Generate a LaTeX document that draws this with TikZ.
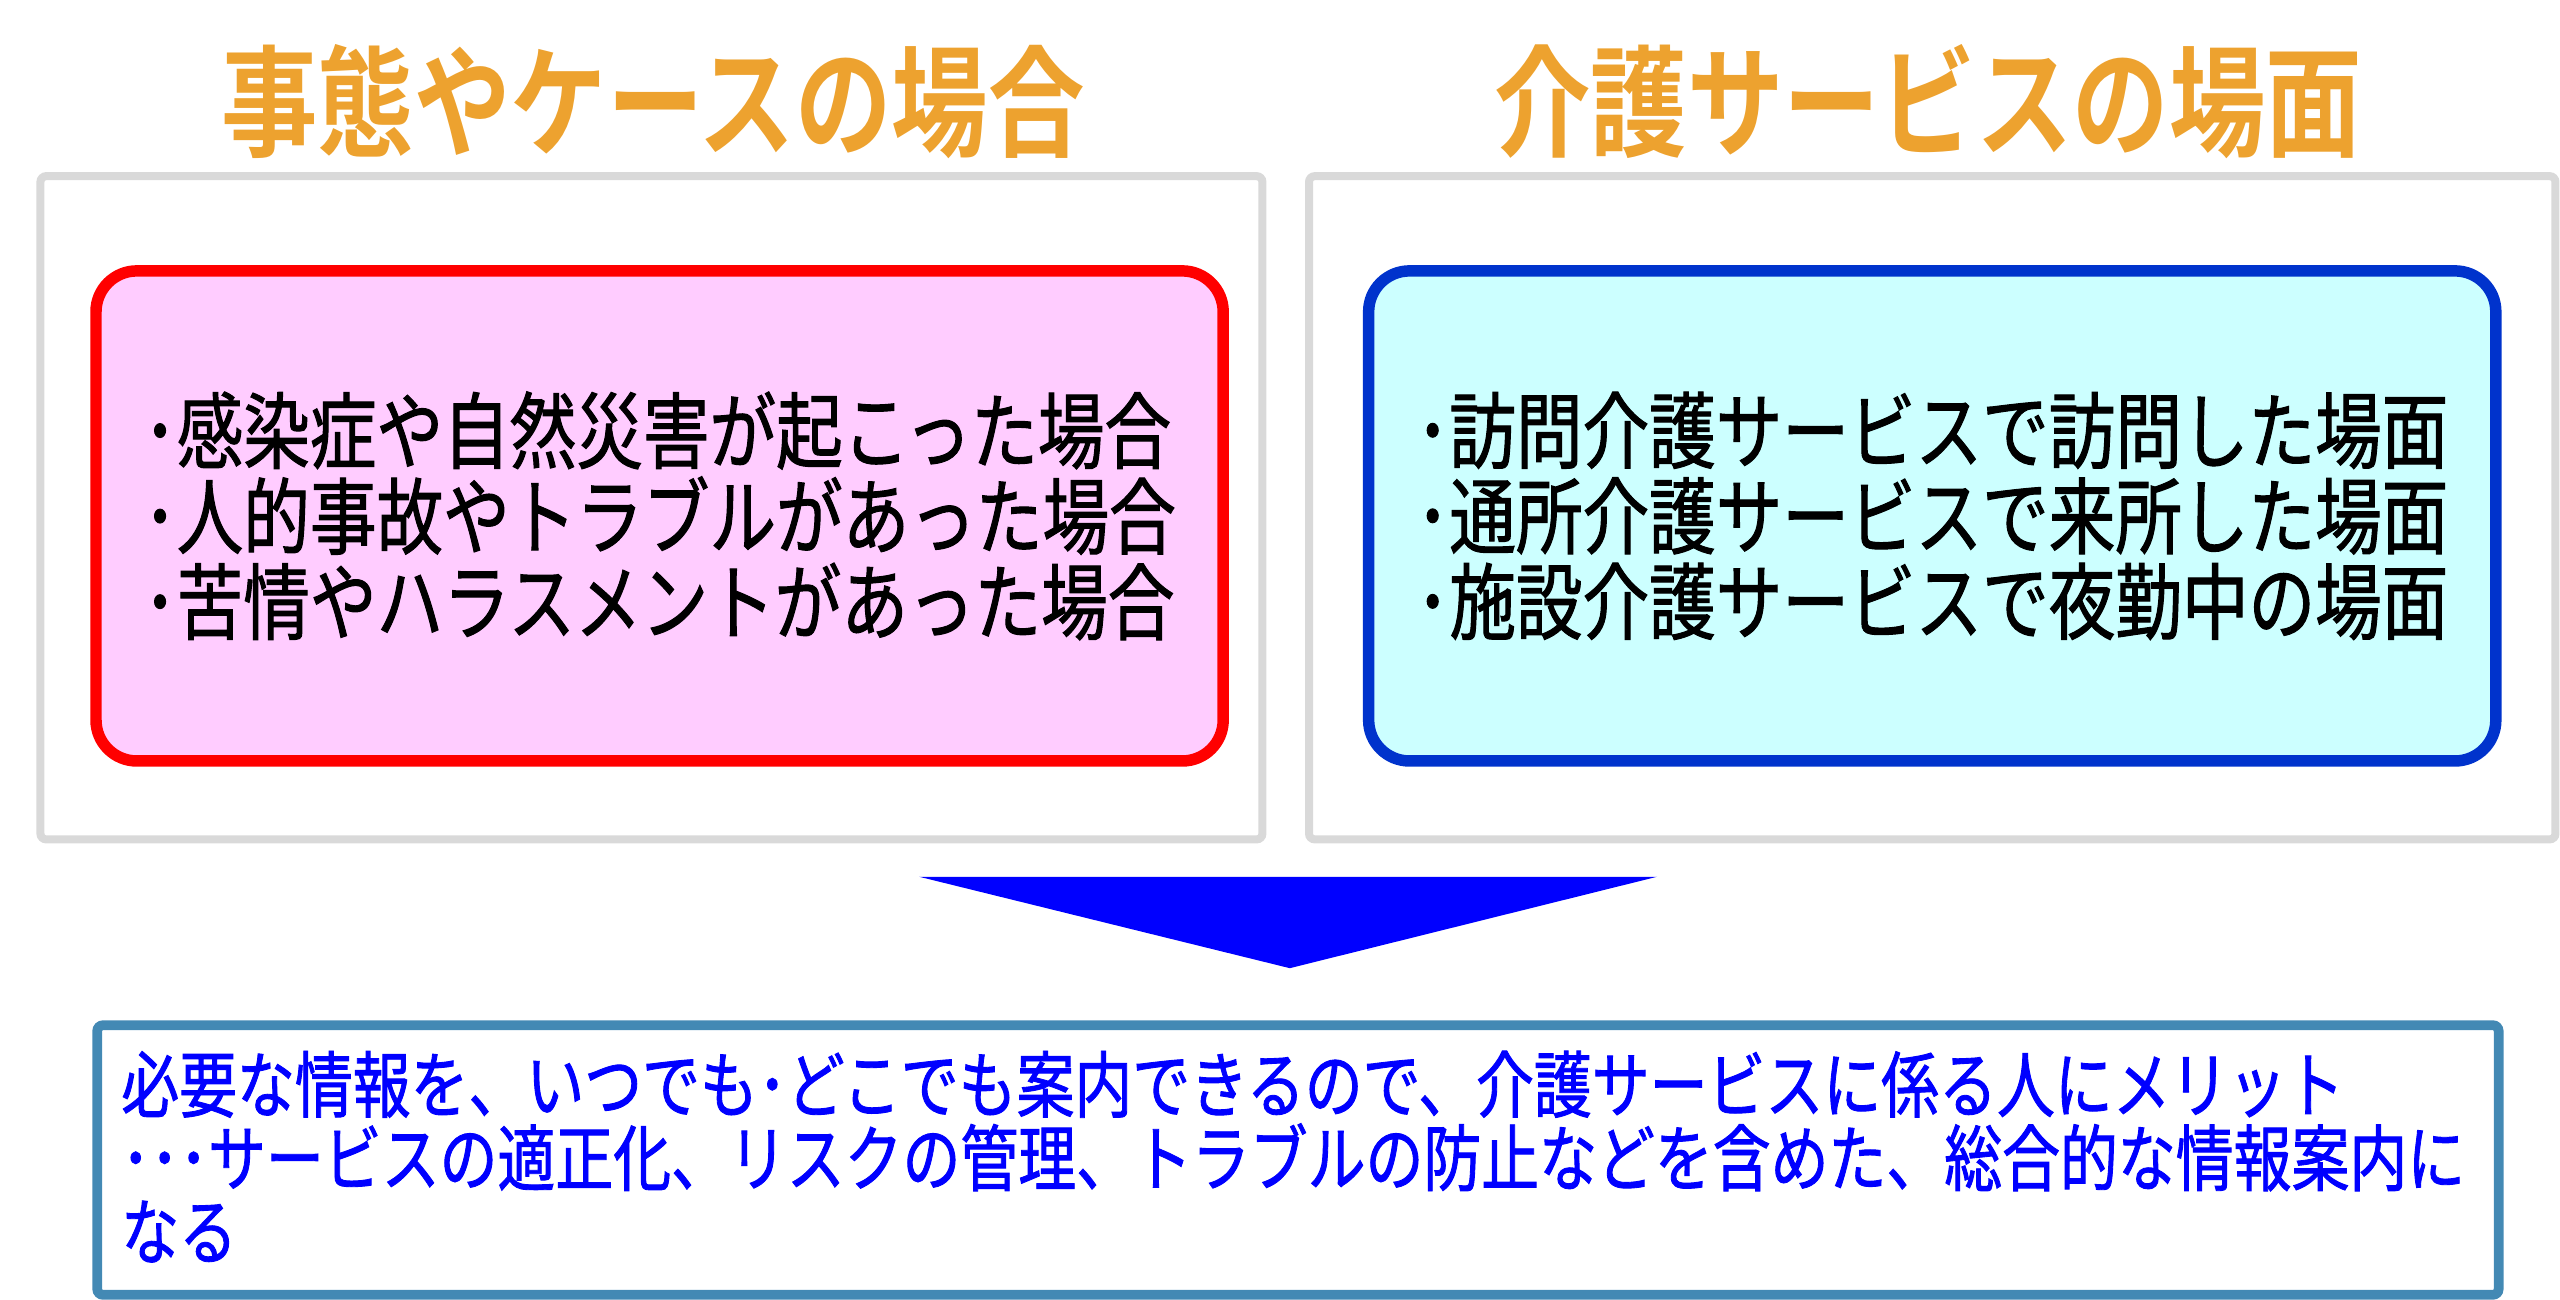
\documentclass[tikz,border=0pt]{standalone}
\usepackage{fontspec}
\usetikzlibrary{positioning}
\newfontfamily\jpfont[FakeStretch=0.8,BoldFont={Noto Sans CJK JP Bold}]{Noto Sans CJK JP}
\newfontfamily\jpbody[FakeStretch=0.8,FakeBold=1.2]{Noto Sans CJK JP}
\definecolor{titleorange}{HTML}{EDA22F}
\definecolor{framegray}{HTML}{D9D9D9}
\definecolor{casered}{HTML}{FF0000}
\definecolor{casepink}{HTML}{FFCCFF}
\definecolor{sceneblue}{HTML}{0033CC}
\definecolor{scenecyan}{HTML}{CCFFFF}
\definecolor{arrowblue}{HTML}{0000FF}
\definecolor{notesteel}{HTML}{4389B4}
\tikzset{
    title/.style={font=\jpfont\bfseries\fontsize{21pt}{21pt}\selectfont,
                  text=titleorange, inner sep=0pt},
    frame/.style={draw=framegray, line width=1.4pt, rounded corners=1pt,
                  minimum height=4.06cm, inner sep=0pt},
    listbox/.style={line width=2pt, rounded corners=0.25cm, align=left,
                    minimum width=6.9cm, minimum height=3cm,
                    font=\jpbody\fontsize{14.5pt}{14.9pt}\selectfont},
    casebox/.style={listbox, draw=casered, fill=casepink},
    scenebox/.style={listbox, draw=sceneblue, fill=scenecyan},
    notebox/.style={draw=notesteel, line width=1.7pt, rounded corners=1pt,
                    minimum width=14.7cm, minimum height=1.65cm, inner sep=0pt},
    notetext/.style={align=left, inner sep=0pt, text=arrowblue,
                     font=\jpbody\fontsize{12.6pt}{12.8pt}\selectfont}
}
\begin{document}
\begin{tikzpicture}[x=0.01cm, y=-0.01cm]
    \useasboundingbox (0,0) rectangle (1568,796);

    \node[title] (casetitle) at (400,62) {事態やケースの場合};
    \node[title] (scenetitle) at (1181,62) {介護サービスの場面};

    \node[frame, minimum width=7.48cm] (caseframe) at (399,311) {};
    \node[frame, minimum width=7.63cm] (sceneframe) at (1183.5,311) {};

    \node[casebox] (cases) at (404,316)
        {･感染症や自然災害が起こった場合\\･人的事故やトラブルがあった場合\\･苦情やハラスメントがあった場合};
    \node[scenebox] (scenes) at (1183.5,316)
        {･訪問介護サービスで訪問した場面\\･通所介護サービスで来所した場面\\･施設介護サービスで夜勤中の場面};

    % big arrow down
    \fill[arrowblue] (563,537) -- (1015,537) -- (790,593) -- cycle;

    \node[notebox] (note) at (795,710.5) {};
    \node[notetext, below right=0.18cm and 0.17cm of note.north west] (notelines)
        {必要な情報を、いつでも･どこでも案内できるので、介護サービスに係る人にメリット\\
         ･･･サービスの適正化、リスクの管理、トラブルの防止などを含めた、総合的な情報案内に\\
         なる};
\end{tikzpicture}
\end{document}
